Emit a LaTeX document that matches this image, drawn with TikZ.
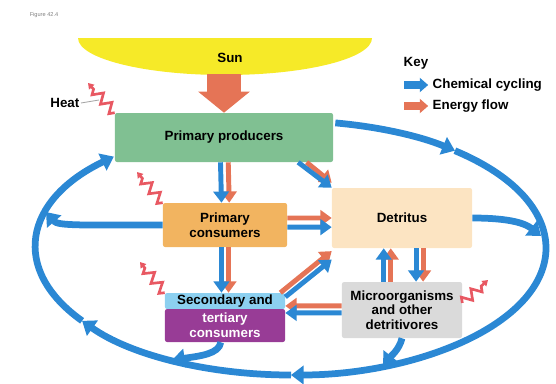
\documentclass[tikz,border=0pt]{standalone}
\usepackage{fontspec}
\setmainfont{Liberation Sans}
\usetikzlibrary{arrows.meta,decorations.pathmorphing}
\definecolor{cyc}{RGB}{43,136,212}
\definecolor{enf}{RGB}{229,116,86}
\definecolor{heatc}{RGB}{232,88,98}
\definecolor{sunc}{RGB}{246,234,40}
\definecolor{prodc}{RGB}{128,192,146}
\definecolor{pconc}{RGB}{242,180,96}
\definecolor{detc}{RGB}{252,228,194}
\definecolor{secc}{RGB}{140,208,240}
\definecolor{terc}{RGB}{152,60,150}
\definecolor{micc}{RGB}{218,218,218}
\tikzset{bx/.style  = {rounded corners=1.5pt, inner sep=0pt, align=center, font=\fontsize{9.5}{10.5}\selectfont\bfseries},
         lbl/.style = {inner sep=1pt, font=\fontsize{9.5}{10.5}\selectfont\bfseries},
         ch/.style  = {draw=cyc, line width=3.5pt, -{Triangle[length=8pt, width=11pt]}},
         en/.style  = {draw=enf, line width=3.5pt, -{Triangle[length=8pt, width=11pt]}},
         cyl/.style = {draw=cyc, line width=4.8pt, -{Triangle[length=9pt, width=13pt]}},
         ht/.style  = {draw=heatc, line width=1.9pt, line join=miter, decorate,
                       decoration={zigzag, segment length=9pt, amplitude=3.5pt, post length=3pt},
                       -{Triangle[length=4pt, width=5pt]}}}

\begin{document}
\begin{tikzpicture}[x=0.025cm, y=-0.025cm]
    \useasboundingbox (0,0) rectangle (556,383);
    \fill[sunc] (78,38) arc[start angle=180, end angle=0, x radius=147, y radius=37] -- cycle;
    \node[font=\fontsize{4}{5}\selectfont, text=gray] (fig) at (44,15) {Figure 42.4};
    \node[lbl] (sun) at (230,58) {Sun}; \coordinate (sunb) at (224,74);
    \node[bx, fill=prodc, minimum width=5.45cm, minimum height=1.225cm] (pp) at (224,137.5) {Primary producers};
    \node[bx, fill=pconc, minimum width=3.1cm, minimum height=1.1cm] (pc) at (225,225) {Primary\\consumers};
    \node[bx, fill=detc, minimum width=3.5cm, minimum height=1.5cm] (det) at (402,218) {Detritus};
    \node[bx, fill=secc, minimum width=3.0cm, minimum height=0.4cm] (sec) at (225,301) {Secondary and};
    \node[bx, fill=terc, text=white, minimum width=3.0cm, minimum height=0.825cm] (ter) at (225,325.5) {tertiary\\consumers};
    \node[bx, fill=micc, minimum width=3.0cm, minimum height=1.4cm] (mic) at (402,310) {Microorganisms\\and other\\detritivores};
    \node[lbl, anchor=west] (key) at (402,63) {Key};
    \node[lbl, anchor=west] (kc) at (431,85) {Chemical cycling};
    \node[lbl, anchor=west] (ke) at (431,106) {Energy flow};
    \node[lbl, anchor=east] (heat) at (81,103) {Heat};

    \draw[draw=enf, line width=24pt, -{Triangle[length=15pt, width=36pt]}] (sunb) -- (pp.north);
    \draw[draw=cyc, line width=5pt, -{Triangle[length=6pt, width=10pt]}] ([xshift=-19pt]kc.west) -- ([xshift=-2pt]kc.west);
    \draw[draw=enf, line width=5pt, -{Triangle[length=6pt, width=10pt]}] ([xshift=-19pt]ke.west) -- ([xshift=-2pt]ke.west);

    \coordinate (c0) at (335.3,122.9); \coordinate (c1) at (454.9,150.7);
    \coordinate (c2) at (291,375); \coordinate (c3) at (82.1,320.8);
    \draw[cyl] (c0) arc[start angle=-80, end angle=-50, x radius=255, y radius=127];
    \draw[cyl] (c1) arc[start angle=-50, end angle=90, x radius=255, y radius=127];
    \draw[cyl] (c2) arc[start angle=90, end angle=145, x radius=255, y radius=127];
    \draw[cyl] (c3) arc[start angle=145, end angle=226, x radius=255, y radius=127];

    \coordinate (e1) at (46,212); \coordinate (e2) at (541,236);
    \coordinate (e3) at (172,360); \coordinate (e4) at (383,366);
    \draw[cyl] (pc.west) .. controls (83,225) and (58,226) .. (e1);
    \draw[cyl] (det.east) .. controls (512,218) and (526,224) .. (e2);
    \draw[cyl] ([xshift=-3pt]ter.south) .. controls (219,354) and (200,356) .. (e3);
    \draw[cyl] (mic.south) .. controls (399,350) and (391,356) .. (e4);

    \draw[en] ([xshift=3pt]pp.south) -- ([xshift=3pt]pc.north);
    \draw[ch] ([xshift=-2.5pt]pp.south) -- ([xshift=-2.5pt]pc.north);
    \draw[en] ([xshift=-19pt]pp.south east) -- ([yshift=3.5pt]det.north west);
    \draw[ch] ([xshift=-25pt]pp.south east) -- (det.north west);
    \draw[en] ([yshift=5pt]pc.east) -- (det.west);
    \draw[ch] ([yshift=-1.5pt]pc.east) -- ([yshift=-6.5pt]det.west);
    \draw[en] ([xshift=2.5pt]pc.south) -- ([xshift=2.5pt]sec.north);
    \draw[ch] ([xshift=-2.5pt]pc.south) -- ([xshift=-2.5pt]sec.north);
    \draw[en] ([xshift=-3.5pt]sec.north east) -- ([yshift=-2pt]det.south west);
    \draw[ch] ([yshift=-3pt]sec.north east) -- ([yshift=-8pt]det.south west);
    \draw[en] ([yshift=3pt]mic.west) -- ([yshift=-3.5pt]sec.east);
    \draw[ch] ([yshift=-2pt]mic.west) -- ([yshift=-8.5pt]sec.east);
    \draw[en] ([xshift=-8pt]mic.north) -- ([xshift=-8pt]det.south);
    \draw[ch] ([xshift=-13pt]mic.north) -- ([xshift=-13pt]det.south);
    \draw[en] ([xshift=15pt]det.south) -- ([xshift=15pt]mic.north);
    \draw[ch] ([xshift=10pt]det.south) -- ([xshift=10pt]mic.north);

    \coordinate (h1) at (88,83); \coordinate (h2) at (137,172);
    \coordinate (h3) at (140,262); \coordinate (h4) at (488,280); \coordinate (hz) at (99,100);
    \draw[ht] (pp.north west) -- (h1);
    \draw[ht] (pc.north west) -- (h2);
    \draw[ht] (sec.north west) -- (h3);
    \draw[ht] ([yshift=5pt]mic.east) -- (h4);
    \draw[gray!70, line width=0.6pt] (heat.east) -- (hz);
\end{tikzpicture}
\end{document}
